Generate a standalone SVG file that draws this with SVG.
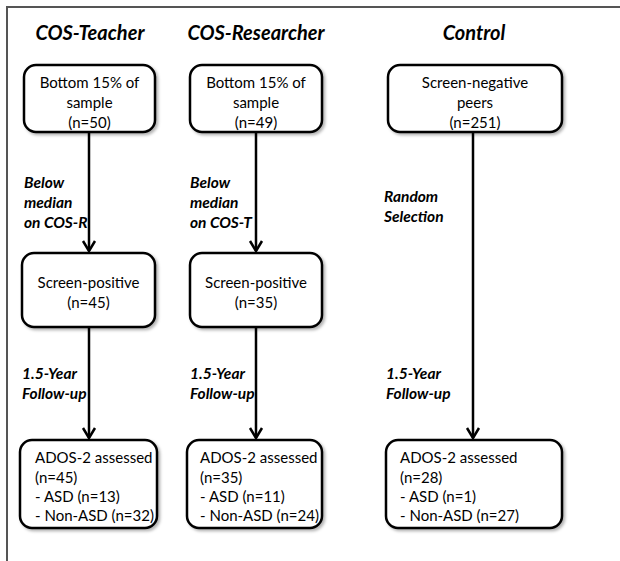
<svg xmlns="http://www.w3.org/2000/svg" width="620" height="561" viewBox="0 0 620 561">
<defs>
<filter id="sh" x="-10%" y="-10%" width="130%" height="130%">
<feDropShadow dx="2" dy="2" stdDeviation="1.5" flood-color="#000" flood-opacity="0.3"/>
</filter>
</defs>
<style>
.box{fill:#fff;stroke:#000;stroke-width:2.5;filter:url(#sh)}
.t{font-family:Lato,"Open Sans",sans-serif;font-size:15px;fill:#000}
.c{text-anchor:middle}
.h{font-family:Lato,"Open Sans",sans-serif;font-size:20px;font-weight:bold;font-style:italic;text-anchor:middle}
.lab{font-family:Lato,"Open Sans",sans-serif;font-size:15.5px;font-weight:bold;font-style:italic}
.con{stroke:#000;stroke-width:2.5;fill:none}
.head{stroke:#000;stroke-width:2.5;fill:none;stroke-linejoin:miter}
</style>
<rect width="620" height="561" fill="#fff"/>
<polyline points="7,561 7,7 620,7" fill="none" stroke="#555" stroke-width="2"/>
<g id="titles">
<text class="h" x="90" y="40">COS-Teacher</text>
<text class="h" x="256" y="40">COS-Researcher</text>
<text class="h" x="474" y="40">Control</text>
</g>
<g id="connectors">
<line class="con" x1="89" y1="132" x2="89" y2="251"/>
<path class="head" d="M83,241 L89,251 L95,241"/>
<line class="con" x1="256" y1="132" x2="256" y2="251"/>
<path class="head" d="M250,241 L256,251 L262,241"/>
<line class="con" x1="473" y1="132" x2="473" y2="438"/>
<path class="head" d="M467,428 L473,438 L479,428"/>
<line class="con" x1="89" y1="327" x2="89" y2="438"/>
<path class="head" d="M83,428 L89,438 L95,428"/>
<line class="con" x1="256" y1="327" x2="256" y2="438"/>
<path class="head" d="M250,428 L256,438 L262,428"/>
<text class="lab" x="24" y="188">Below</text>
<text class="lab" x="24" y="208">median</text>
<text class="lab" x="24" y="228">on COS-R</text>
<text class="lab" x="190" y="188">Below</text>
<text class="lab" x="190" y="208">median</text>
<text class="lab" x="190" y="228">on COS-T</text>
<text class="lab" x="384" y="202">Random</text>
<text class="lab" x="384" y="222">Selection</text>
<text class="lab" x="22" y="379">1.5-Year</text>
<text class="lab" x="22" y="399">Follow-up</text>
<text class="lab" x="190" y="379">1.5-Year</text>
<text class="lab" x="190" y="399">Follow-up</text>
<text class="lab" x="386" y="379">1.5-Year</text>
<text class="lab" x="386" y="399">Follow-up</text>
</g>
<g id="n1">
<rect class="box" x="24" y="65" width="131" height="67" rx="12"/>
<text class="t c" x="89.5" y="88">Bottom 15% of</text>
<text class="t c" x="89.5" y="108">sample</text>
<text class="t c" x="89.5" y="128">(n=50)</text>
</g>
<g id="n2">
<rect class="box" x="190" y="65" width="132" height="67" rx="12"/>
<text class="t c" x="256" y="88">Bottom 15% of</text>
<text class="t c" x="256" y="108">sample</text>
<text class="t c" x="256" y="128">(n=49)</text>
</g>
<g id="n3">
<rect class="box" x="388" y="65" width="174" height="67" rx="12"/>
<text class="t c" x="475" y="88">Screen-negative</text>
<text class="t c" x="475" y="108">peers</text>
<text class="t c" x="475" y="128">(n=251)</text>
</g>
<g id="n4">
<rect class="box" x="22" y="253" width="133" height="74" rx="12"/>
<text class="t c" x="88.5" y="288">Screen-positive</text>
<text class="t c" x="88.5" y="308">(n=45)</text>
</g>
<g id="n5">
<rect class="box" x="190" y="253" width="132" height="74" rx="12"/>
<text class="t c" x="256" y="288">Screen-positive</text>
<text class="t c" x="256" y="308">(n=35)</text>
</g>
<g id="n6">
<rect class="box" x="20" y="440" width="137" height="88" rx="12"/>
<text class="t" x="35" y="463">ADOS-2 assessed</text>
<text class="t" x="35" y="483">(n=45)</text>
<text class="t" x="35" y="502">-  ASD (n=13)</text>
<text class="t" x="35" y="521">-  Non-ASD (n=32)</text>
</g>
<g id="n7">
<rect class="box" x="187" y="440" width="135" height="88" rx="12"/>
<text class="t" x="200" y="463">ADOS-2 assessed</text>
<text class="t" x="200" y="483">(n=35)</text>
<text class="t" x="200" y="502">-  ASD (n=11)</text>
<text class="t" x="200" y="521">-  Non-ASD (n=24)</text>
</g>
<g id="n8">
<rect class="box" x="386" y="440" width="176" height="88" rx="12"/>
<text class="t" x="400" y="463">ADOS-2 assessed</text>
<text class="t" x="400" y="483">(n=28)</text>
<text class="t" x="400" y="502">-  ASD (n=1)</text>
<text class="t" x="400" y="521">-  Non-ASD (n=27)</text>
</g>
</svg>
